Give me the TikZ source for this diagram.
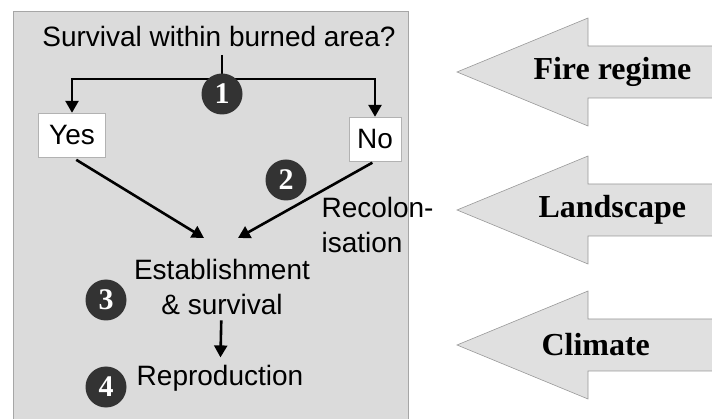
\documentclass[tikz,border=0pt]{standalone}
\usepackage{fontspec}
\setmainfont{Liberation Serif}
\setsansfont{Liberation Sans}
\usetikzlibrary{arrows.meta,positioning}

\begin{document}
\begin{tikzpicture}[x=1pt,y=-1pt,
    txt/.style={font=\sffamily\fontsize{28}{35}\selectfont},
    ans/.style={txt,draw=gray!60,fill=white,inner sep=0pt,minimum height=44pt},
    num/.style={circle,fill=black!80,text=white,inner sep=0pt,minimum size=41pt,
      font=\bfseries\fontsize{30}{30}\selectfont},
    factor/.style={font=\bfseries\fontsize{32}{32}\selectfont},
    bigarrow/.style={draw=gray!80,fill=black!12,line width=0.6pt},
    flow/.style={line width=2.6pt,-{Triangle[width=13pt,length=12pt]}}]
  \useasboundingbox (0,0) rectangle (712,419);

  % grey panel
  \draw[gray!70,fill=black!14,line width=1pt] (13,12) rectangle (408,430);

  \node[txt] (quest) at (219,36) {Survival within burned area?};
  \coordinate (stem) at (222,55);
  \coordinate (split) at (222,79);
  \node[ans,minimum width=67pt] (yes) at (72,135) {Yes};
  \node[ans,minimum width=52pt] (no) at (375,139) {No};

  \draw[line width=2.6pt] (stem) -- (split);
  \draw[flow] (split) -| (yes);
  \draw[flow] (split) -| (no);
  \node[num] (one) at (222,94) {1};

  \node[txt,align=center] (estab) at (222,287) {Establishment\\\& survival};
  \coordinate (inL) at (204,238);
  \coordinate (inR) at (238,238);
  \draw[flow,shorten <=5pt] (yes.south) -- (inL);
  \draw[flow,shorten <=3pt] (no.south) -- (inR);
  \node[num] (two) at (286,180) {2};
  \node[txt,align=left,anchor=west] (recol) at (318,225) {Recolon-\\isation};

  \node[txt] (repro) at (220,378) {Reproduction};
  \draw[flow,shorten <=2pt,shorten >=4pt] (estab) -- (repro);
  \node[num] (three) at (106,300) {3};
  \node[num] (four) at (106,387) {4};

  % outside factors
  \foreach \y/\tx/\name/\lab in {72/530/fire/Fire regime, 210/535/land/Landscape, 345/538/clim/Climate}{
    \draw[bigarrow] (457,\y) -- (588,\y-54) -- (588,\y-26) -- (716,\y-26)
      -- (716,\y+26) -- (588,\y+26) -- (588,\y+54) -- cycle;
    \node[factor,anchor=west] (\name) at (\tx,\y) {\lab};
  }
\end{tikzpicture}
\end{document}
